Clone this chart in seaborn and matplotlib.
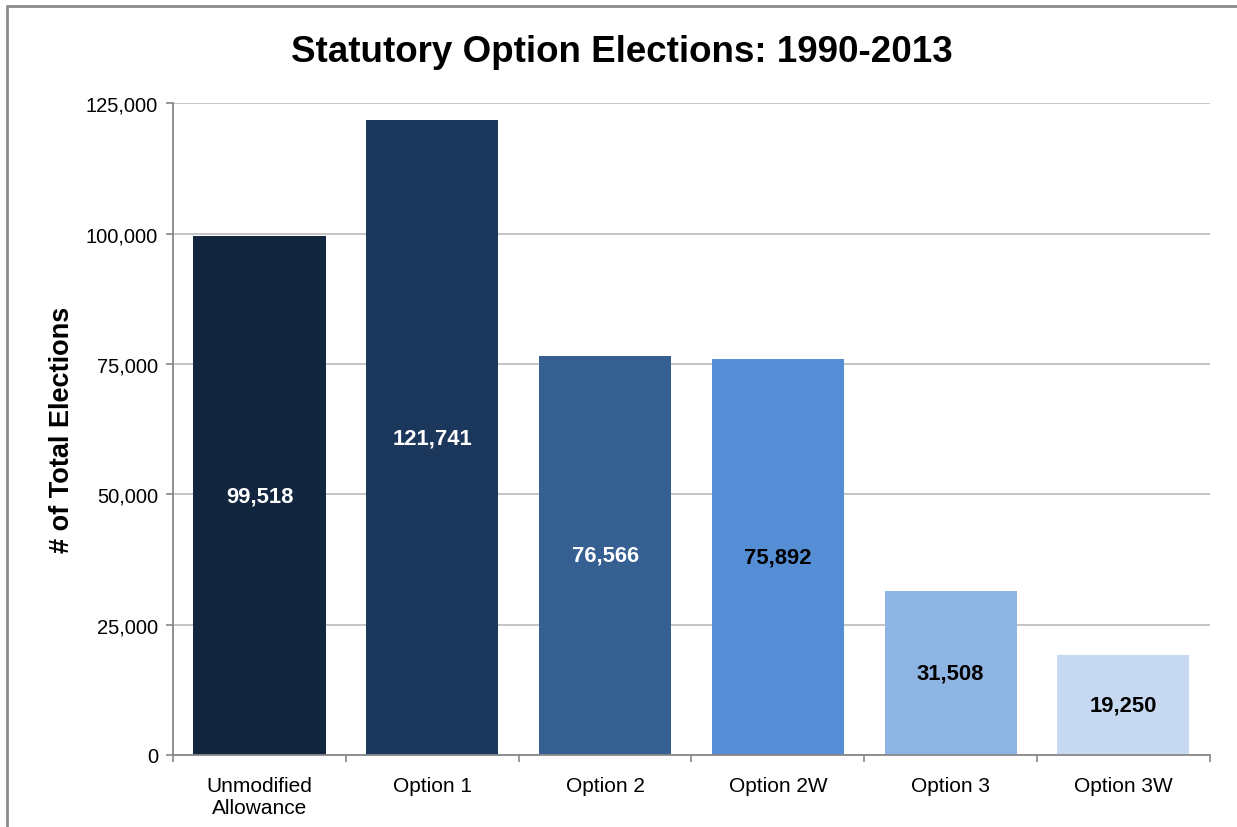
import numpy as np
import pandas as pd
import matplotlib
matplotlib.use("Agg")
import matplotlib.pyplot as plt
from matplotlib.lines import Line2D
from matplotlib.ticker import FuncFormatter, MultipleLocator, FixedLocator
import seaborn as sns

# dados
categorias = ["Unmodified\nAllowance", "Option 1", "Option 2", "Option 2W", "Option 3", "Option 3W"]
eleicoes = [99518, 121741, 76566, 75892, 31508, 19250]
cores = ["#13263F", "#1B375C", "#366092", "#558ED5", "#8EB4E3", "#C6D9F1"]
cor_rotulo = ["white", "white", "white", "black", "black", "black"]

df = pd.DataFrame({"Opcao": categorias, "Eleicoes": eleicoes})

sns.set_style("white")
plt.rcParams["font.family"] = ["Liberation Sans", "DejaVu Sans"]
plt.rcParams["text.color"] = "black"
plt.rcParams["axes.labelcolor"] = "black"
plt.rcParams["xtick.labelcolor"] = "black"
plt.rcParams["ytick.labelcolor"] = "black"

fig, ax = plt.subplots(figsize=(12.37, 8.28), dpi=100)
fig.subplots_adjust(left=0.140, right=0.978, top=0.874, bottom=0.087)

sns.barplot(data=df, x="Opcao", y="Eleicoes", hue="Opcao", palette=cores,
            legend=False, width=0.765, saturation=1, linewidth=0, ax=ax)

# rotulos dentro das barras
for i, (v, c) in enumerate(zip(eleicoes, cor_rotulo)):
    ax.text(i, v / 2, f"{v:,}", ha="center", va="center", color=c,
            fontsize=15.8, fontweight="bold")

ax.set_ylim(0, 125000)
ax.set_xlim(-0.5, len(categorias) - 0.5)
ax.yaxis.set_major_locator(MultipleLocator(25000))
ax.yaxis.set_major_formatter(FuncFormatter(lambda v, p: f"{int(v):,}"))
ax.grid(axis="y", color="#BFBFBF", linewidth=1.3)
ax.set_axisbelow(True)

ax.set_xlabel("")
ax.set_ylabel("# of Total Elections", fontsize=19.5, fontweight="bold", labelpad=8)
fig.suptitle("Statutory Option Elections: 1990-2013", fontsize=26.5, fontweight="bold",
             x=0.503, y=1 - 52 / 828, va="center")

for s in ["top", "right"]:
    ax.spines[s].set_visible(False)
for s in ["left", "bottom"]:
    ax.spines[s].set_color("#888888")
    ax.spines[s].set_linewidth(1.3)

ax.tick_params(axis="y", which="major", left=True, length=5, width=1.2, color="#888888",
               labelsize=14.5, pad=6)
ax.tick_params(axis="x", which="major", bottom=False, labelsize=15, pad=12)
ax.xaxis.set_minor_locator(FixedLocator(np.arange(-0.5, len(categorias), 1.0)))
ax.tick_params(axis="x", which="minor", bottom=True, length=5, width=1.2, color="#888888")

# moldura do grafico
fig.add_artist(Line2D([7 / 1237, 1.0], [1 - 7 / 828, 1 - 7 / 828], color="#8C8C8C", lw=2))
fig.add_artist(Line2D([7 / 1237, 7 / 1237], [0.0, 1 - 7 / 828], color="#8C8C8C", lw=2))

fig.savefig("out.png", dpi=100)
